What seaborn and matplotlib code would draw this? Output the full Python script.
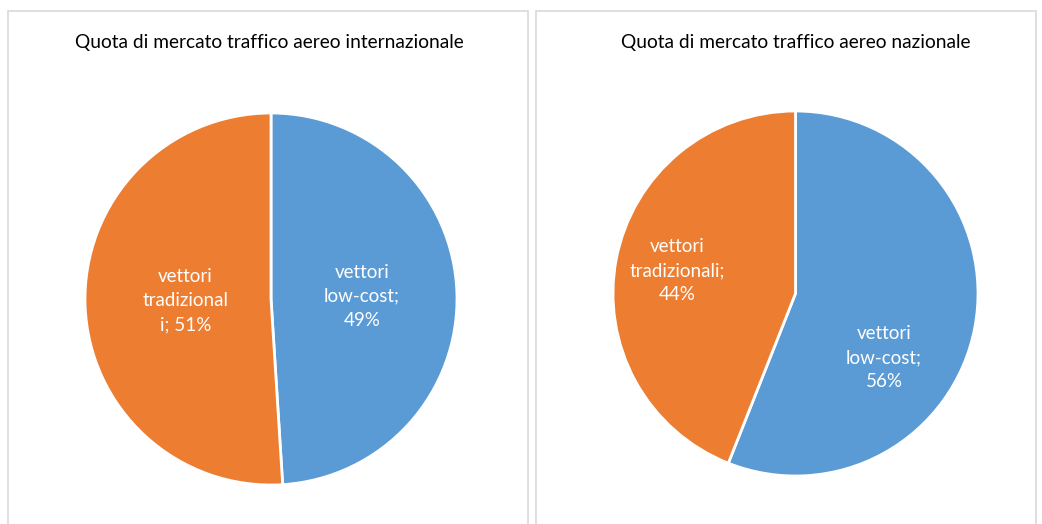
import matplotlib
matplotlib.use("Agg")
import matplotlib.pyplot as plt
from matplotlib.patches import Rectangle
import numpy as np
import seaborn as sns

sns.set_theme(style="white")
plt.rcParams['font.family'] = ['Lato', 'DejaVu Sans']

# ---- data ----
categories = ["vettori low-cost", "vettori tradizionali"]
intl_values = [49, 51]
naz_values = [56, 44]
titles = ["Quota di mercato traffico aereo internazionale",
          "Quota di mercato traffico aereo nazionale"]
intl_labels = ["vettori\nlow-cost;\n49%", "vettori\ntradizional\ni; 51%"]
naz_labels = ["vettori\nlow-cost;\n56%", "vettori\ntradizionali;\n44%"]

colors = ["#5B9BD5", "#ED7D31"]

W, H = 1042, 524
fig = plt.figure(figsize=(W / 100, H / 100), dpi=100)
fig.patch.set_facecolor("white")

# panel borders (pixel coords -> figure coords)
for (x0, x1) in [(8, 528), (536, 1036)]:
    fig.patches.append(Rectangle((x0 / W, -0.1), (x1 - x0) / W, 1.1 - 11 / H,
                                 transform=fig.transFigure, fill=False,
                                 edgecolor="#D9D9D9", linewidth=1.2))

# pies: (center_x, center_y from top, radius) in pixels
specs = [
    (271, 299, 186, intl_values, intl_labels, titles[0], 269,
     [(1.8, 0.49), (181.0, 0.46)]),
    (795.5, 293.5, 182.5, naz_values, naz_labels, titles[1], 796,
     [(-36.0, 0.60), (169.0, 0.66)]),
]

for cx, cy, r, vals, labs, title, tx, lpos in specs:
    ax = fig.add_axes([(cx - r) / W, (H - cy - r) / H, 2 * r / W, 2 * r / H])
    ax.pie(vals, colors=colors, startangle=90, counterclock=False, radius=1,
           wedgeprops=dict(edgecolor="white", linewidth=2))
    ax.set_xlim(-1, 1)
    ax.set_ylim(-1, 1)
    ax.set_aspect("equal")
    ax.axis("off")
    for lab, (ang, dist) in zip(labs, lpos):
        a = np.deg2rad(ang)
        ax.text(dist * np.cos(a), dist * np.sin(a), lab, ha="center", va="center",
                color="white", fontsize=13.5, linespacing=1.5)
    fig.text(tx / W, 1 - 43 / H, title, ha="center", va="center",
             fontsize=13.8, color="#000000")

fig.savefig("out.png", dpi=100, facecolor="white")
